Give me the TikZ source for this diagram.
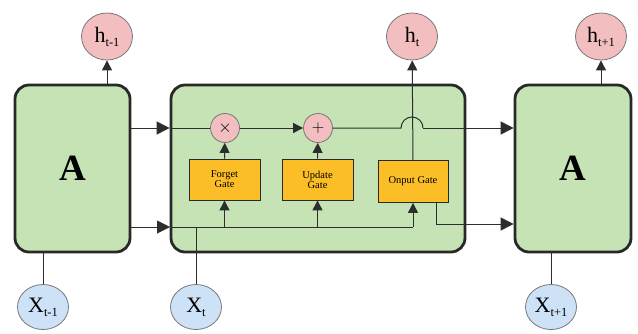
\documentclass[tikz,border=0pt]{standalone}
\usepackage{fontspec}
\setmainfont{Liberation Serif}
\usetikzlibrary{arrows.meta,calc,shapes.geometric}

\definecolor{cellgreen}{RGB}{197,227,180}
\definecolor{cellline}{RGB}{40,40,40}
\definecolor{gatefill}{RGB}{251,190,38}
\definecolor{opfill}{RGB}{242,190,192}
\definecolor{infill}{RGB}{205,226,246}
\definecolor{wire}{RGB}{45,45,45}
\definecolor{ringgray}{RGB}{120,120,120}

% state label with a lowered, smaller index
\newcommand{\statelbl}[2]{{\fontsize{22}{22}\selectfont #1}\raisebox{-4pt}{\fontsize{12.5}{12.5}\selectfont #2}}

\begin{document}
\begin{tikzpicture}[x=1pt,y=-1pt,
  cell/.style={draw=cellline, line width=2.8pt, fill=cellgreen, rounded corners=14pt,
    minimum height=167pt, inner sep=0pt, font=\fontsize{37}{37}\selectfont\bfseries},
  gate/.style={draw=cellline, line width=0.8pt, fill=gatefill, minimum width=71pt,
    minimum height=41pt, inner sep=1pt, align=center, font=\fontsize{10.5}{10}\selectfont},
  op/.style={circle, draw=ringgray, line width=0.8pt, fill=opfill, minimum size=29pt,
    inner sep=0pt, font=\fontsize{18}{18}\selectfont},
  state/.style={ellipse, draw=ringgray, line width=0.8pt, fill=opfill, minimum width=51pt,
    minimum height=47pt, inner sep=0pt},
  input/.style={state, fill=infill, minimum height=45pt},
  wireline/.style={draw=wire, line width=1pt},
  bigarr/.style={wireline, -{Triangle[length=13pt,width=13pt]}},
  arr/.style={wireline, -{Triangle[length=10pt,width=10pt]}}
]
\useasboundingbox (0,0) rectangle (638,333);

% three unrolled cells
\node[cell, minimum width=115pt] (L) at (72.5,168.5) {A};
\node[cell, minimum width=294pt] (M) at (318,168.5) {};
\node[cell, minimum width=116pt] (R) at (573,168.5) {A};

% gates inside the middle cell
\node[gate] (fg) at (224.5,179.5) {Forget\\Gate};
\node[gate] (ug) at (317.5,179.5) {Update\\Gate};
\node[gate, minimum width=70pt, minimum height=42pt] (og) at (413,181.5) {Onput Gate};

% pointwise operations
\node[op] (mul) at (225,128) {$\times$};
\node[op] (add) at (318,128) {$+$};

% hidden states
\node[state] (hm1) at (107,36.5) {\statelbl{h}{t-1}};
\node[state] (ht)  at (412,36.5) {\statelbl{h}{t}};
\node[state] (hp1) at (601,36.5) {\statelbl{h}{t+1}};

% inputs
\node[input] (xm1) at (43,307) {\statelbl{X}{t-1}};
\node[input] (xt)  at (196,307) {\statelbl{X}{t}};
\node[input] (xp1) at (551,307) {\statelbl{X}{t+1}};

% junction points
\coordinate (topin) at (M.west |- mul);
\coordinate (botin) at (170,227);
\coordinate (botcorner) at (og.south |- botin);
\coordinate (hopL) at (401,128);
\coordinate (hopR) at (423,128);
\coordinate (outdrop) at (436,224);

% outputs of the cells
\draw[arr] (hm1 |- L.north) -- (hm1);
\draw[arr] (og.north) -- (ht);
\draw[arr] (hp1 |- R.north) -- (hp1);

% inputs into the cells
\draw[wireline] (xm1) -- (xm1 |- L.south);
\draw[wireline] (xt) -- (xt |- botin);
\draw[wireline] (xp1) -- (xp1 |- R.south);

% cell state path
\draw[bigarr] (L.east |- mul) -- (topin);
\draw[wireline] (topin) -- (mul);
\draw[arr] (mul) -- (add);
\draw[wireline] (add) -- (hopL) arc[start angle=180, end angle=0, radius=11pt] -- (hopR);
\draw[bigarr] (hopR) -- (R.west |- hopR);

% hidden state path
\draw[bigarr] (L.east |- botin) -- (botin);
\draw[wireline] (botin) -- (botcorner);
\draw[arr] (botcorner) -- (og.south);
\draw[arr] (fg.south |- botin) -- (fg.south);
\draw[arr] (ug.south |- botin) -- (ug.south);
\draw[wireline] (outdrop |- og.south) -- (outdrop);
\draw[bigarr] (outdrop) -- (R.west |- outdrop);

% gates feeding the operations
\draw[arr] (fg.north) -- (mul);
\draw[arr] (ug.north) -- (add);
\end{tikzpicture}
\end{document}
